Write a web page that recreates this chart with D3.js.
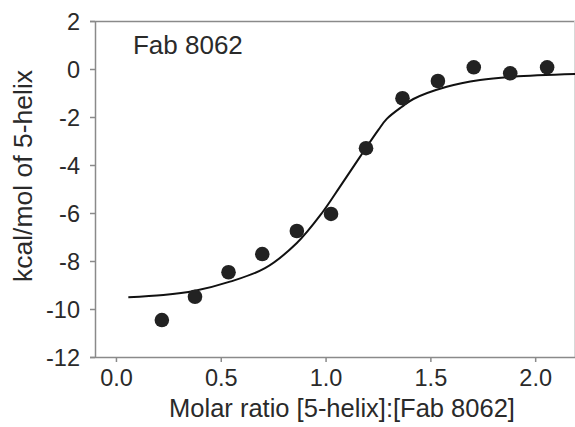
<!DOCTYPE html>
<html>
<head>
<meta charset="utf-8">
<script src="https://cdn.jsdelivr.net/npm/d3@7"></script>
<style>
  body { margin: 0; background: #fff; }
  svg text { font-family: "Liberation Sans", Arial, sans-serif; fill: #2a2a2a; }
</style>
</head>
<body>
<div id="chart"><svg></svg></div>
<script>
// measured injections (molar ratio, kcal/mol)
const molarRatio = [0.219, 0.377, 0.537, 0.698, 0.863, 1.026, 1.193, 1.367, 1.536, 1.707, 1.881, 2.057];
const heat = [-10.46, -9.49, -8.47, -7.71, -6.75, -6.04, -3.30, -1.22, -0.50, 0.07, -0.18, 0.07];

// fitted binding curve
const fitX = [0.059, 0.226, 0.377, 0.544, 0.711, 0.863, 0.982, 1.069, 1.165, 1.252, 1.292, 1.365, 1.419, 1.578, 1.737, 1.896, 2.19];
const fitY = [-9.51, -9.42, -9.24, -8.86, -8.30, -7.25, -6.01, -4.90, -3.65, -2.54, -2.08, -1.57, -1.25, -0.74, -0.46, -0.32, -0.21];

const xTicks = [0, 0.5, 1.0, 1.5, 2.0];
const yTicks = [-12, -10, -8, -6, -4, -2, 0, 2];

const label = "Fab 8062";
const xTitle = "Molar ratio [5-helix]:[Fab 8062]";
const yTitle = "kcal/mol of 5-helix";

const W = 575, H = 427;
const margin = { top: 21, right: 0, bottom: 70, left: 95 };
const width = W - margin.left - margin.right;
const height = H - margin.top - margin.bottom;
const axisColor = "#8a8a8a";

const svg = d3.select("#chart svg").attr("width", W).attr("height", H);
const g = svg.append("g").attr("transform", `translate(${margin.left},${margin.top})`);

const x = d3.scaleLinear().domain([-0.1, 2.19]).range([0, width]);
const y = d3.scaleLinear().domain([-12, 2]).range([height, 0]);

// top frame line
g.append("line")
    .attr("x1", -5).attr("x2", width)
    .attr("y1", 0.5).attr("y2", 0.5)
    .attr("stroke", axisColor).attr("stroke-width", 1.5);

// right frame line (cropped at image edge)
g.append("line")
    .attr("x1", width - 0.5).attr("x2", width - 0.5)
    .attr("y1", 0).attr("y2", height)
    .attr("stroke", "#d8d8d8").attr("stroke-width", 1);

const yAxis = g.append("g")
    .call(d3.axisLeft(y).tickValues(yTicks).tickSize(5).tickSizeOuter(0).tickPadding(10)
        .tickFormat(d => d3.format("d")(d).replace("−", "-")));

const xAxis = g.append("g")
    .attr("transform", `translate(0,${height})`)
    .call(d3.axisBottom(x).tickValues(xTicks).tickSize(5).tickSizeOuter(0).tickPadding(5)
        .tickFormat(d3.format(".1f")));

[xAxis, yAxis].forEach(ax => {
    ax.select(".domain").attr("stroke", axisColor).attr("stroke-width", 1.5);
    ax.selectAll(".tick line").attr("stroke", axisColor).attr("stroke-width", 1.5);
    ax.selectAll(".tick text").attr("font-size", 23.5).attr("fill", "#2a2a2a");
});
xAxis.select(".domain").attr("d", `M-5,0.5H${width}`);
yAxis.selectAll(".tick text").attr("dy", "0.36em");
xAxis.selectAll(".tick text").attr("dy", "0.82em");

// fit curve
const line = d3.line()
    .x(d => x(d[0]))
    .y(d => y(d[1]))
    .curve(d3.curveCatmullRom.alpha(0.5));

g.append("path")
    .datum(fitX.map((v, i) => [v, fitY[i]]))
    .attr("d", line)
    .attr("fill", "none")
    .attr("stroke", "#111")
    .attr("stroke-width", 2);

// data points
g.selectAll(".pt")
    .data(molarRatio.map((v, i) => [v, heat[i]]))
    .enter().append("circle")
    .attr("class", "pt")
    .attr("cx", d => x(d[0]))
    .attr("cy", d => y(d[1]))
    .attr("r", 7.3)
    .attr("fill", "#222");

// inset label
g.append("text")
    .attr("x", x(0) + 17)
    .attr("y", 33)
    .attr("font-size", 26)
    .text(label);

// axis titles
svg.append("text")
    .attr("x", 342)
    .attr("y", 417)
    .attr("text-anchor", "middle")
    .attr("font-size", 25.5)
    .text(xTitle);

svg.append("text")
    .attr("transform", `translate(32,176) rotate(-90)`)
    .attr("text-anchor", "middle")
    .attr("font-size", 26.5)
    .text(yTitle);
</script>
</body>
</html>
